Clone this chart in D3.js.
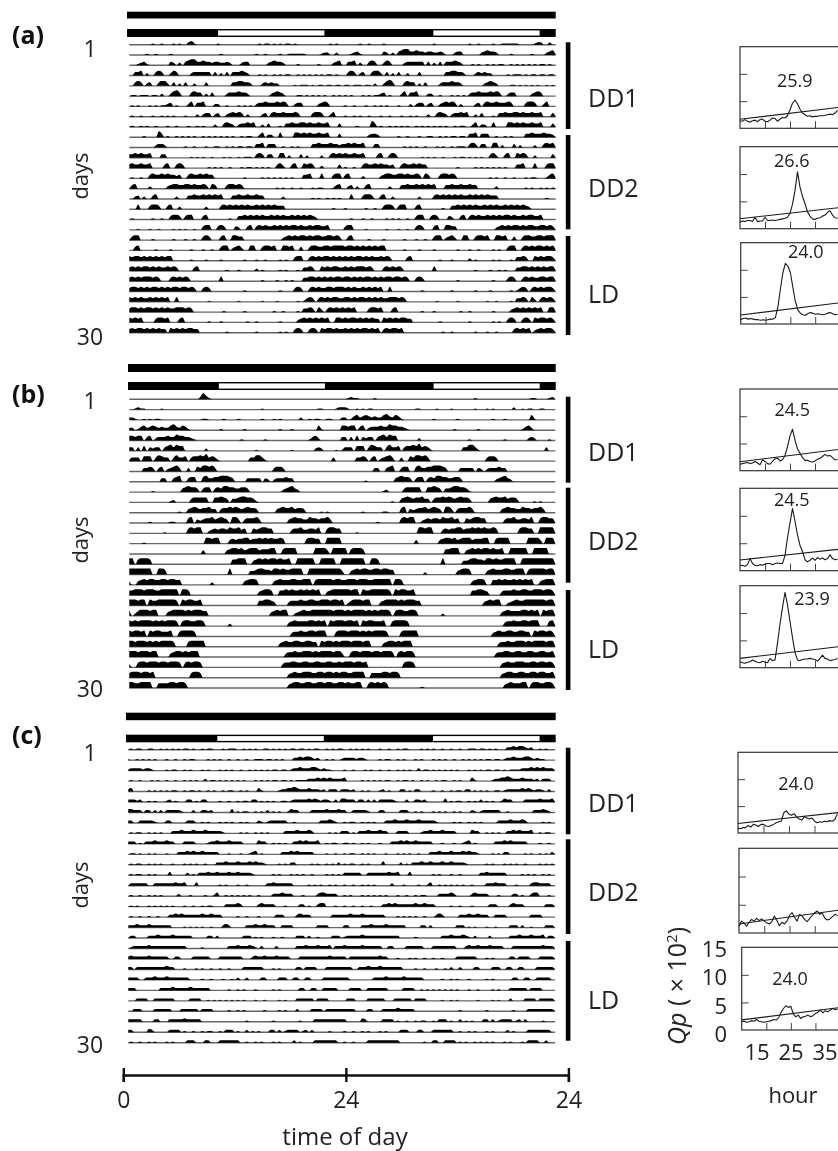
<!DOCTYPE html>
<html>
<head>
<meta charset="utf-8">
<script src="https://cdn.jsdelivr.net/npm/d3@7"></script>
<style>
  html, body { margin: 0; padding: 0; background: #fff; overflow: hidden; }
  svg { filter: blur(0.35px); }
  text { font-family: "Open Sans", sans-serif; fill: #222; }
</style>
</head>
<body>
<div id="chart"></div>
<script>
// activity per day, one digit for each 20 minutes (72 per day)
const activityA = [
  "000000 001001 000101 002310 000000 100000 000000 001011 010101 101000 000000 001010",
  "000000 100100 001000 000000 000000 010000 000000 010010 000100 111111 000001 220020",
  "000123 100000 003202 034553 343323 322320 002330 000002 343320 000100 000010 000234",
  "003340 200343 002430 000233 333303 020303 334320 001010 010101 100101 010101 011010",
  "003430 230034 420302 030020 003000 000003 344332 000232 322000 001011 101011 011011",
  "011011 101102 002453 000343 302030 000233 343320 000000 234320 000110 101010 100101",
  "010100 010101 123010 002403 340002 200100 010101 023343 334343 002330 000023 430000",
  "010010 001001 010100 010002 023302 300234 343020 000230 343343 334300 003443 002400",
  "010010 100100 010010 001001 010002 003432 023343 400203 000103 343344 343343 340003",
  "000001 000053 010010 101010 010101 010101 001011 002402 200400 004434 343343 340003",
  "000000 000233 200000 010010 001001 100101 011011 033403 330010 010100 003343 334332",
  "334343 340003 300000 000101 010010 001010 010111 034303 300440 200030 200002 003434",
  "343343 340000 340034 300000 000101 010010 001011 010101 003420 034004 343002 000003",
  "010010 034334 343323 003433 434330 000000 000100 000101 010101 010003 340004 000344",
  "034000 020000 023443 344343 343043 000344 343000 000000 001010 010010 001011 000134",
  "002302 003400 000020 003343 343434 340003 343343 343300 000020 000000 001010 010101",
  "000400 034430 034002 000000 002000 034343 434343 343434 343330 000000 000000 000100",
  "010000 001001 003443 034400 034000 000010 033434 343433 434343 343434 343200 000000",
  "000100 010010 000101 010010 034400 343000 320034 034343 343434 344343 343443 340000",
  "034400 001000 000100 010010 034300 034004 433000 000000 000023 434344 343443 344343",
  "003400 000100 001000 000100 010010 034402 342004 400344 340044 340030 034433 443444",
  "434434 343434 344000 000100 001000 010000 000100 010010 000101 003440 034343 443434",
  "343434 434343 343430 000034 000000 000100 010000 020100 000101 000103 343004 343443",
  "343434 443430 003434 343000 000000 040000 000000 000100 001001 010003 344343 434344",
  "344343 434434 343443 443430 034300 000000 000100 000000 000100 003430 034343 344344",
  "434343 343434 340040 000000 000100 000000 010000 000100 001000 000101 343034 343443",
  "344343 443434 343344 434300 000000 001000 000100 000000 010010 000103 343042 034343",
  "434340 000344 340003 400000 000100 010000 000010 010000 000100 000234 343434 340044",
  "343443 434343 304343 434433 000000 000100 000000 010000 000101 003430 034304 344343",
  "343434 344343 403434 434000 000000 000010 010000 000100 010010 000034 343402 343443"
];

const activityB = [
  "000000 000000 000000 000000 253100 000000 000000 000000 000000 000000 000000 000000",
  "001211 000001 000000 000000 000000 000000 000000 000100 000000 000000 000011 000012",
  "221001 010110 000000 000000 011000 001000 010000 000100 010100 000020 010110 011000",
  "220134 234323 224532 431000 000000 010000 000100 000000 000100 010000 000041 000000",
  "443440 340233 343354 433210 000000 000000 001000 000010 000000 000000 013420 000000",
  "330304 032330 345354 400000 002000 000000 000000 010000 000000 010000 000232 000010",
  "133304 440354 330353 340344 546343 100000 000003 355310 000000 000000 000000 000300",
  "000003 343034 023453 003004 355453 000000 000000 000000 034430 000000 000000 000000",
  "000000 000003 300345 003440 045334 455543 000033 333032 023334 330000 000000 000000",
  "000000 001000 000000 345443 034403 435544 334430 000000 000023 453200 000000 000000",
  "000000 000000 001200 000344 444004 454303 345544 310000 000000 000000 000000 000000",
  "000000 000000 000001 003454 344533 034454 543454 430000 003454 453443 000001 010000",
  "000000 010000 001100 004503 234453 454305 530344 453000 000000 345443 354434 453000",
  "000000 000000 100000 004545 500234 344354 453400 434554 400000 034453 344350 045544",
  "000001 000000 000000 000000 005545 500034 344553 445454 544540 000000 455440 055555",
  "000000 000000 000000 000000 030000 000345 545345 553444 550045 555000 000555 530555",
  "550455 540000 000000 000000 000000 000004 455500 345454 554544 500555 555005 555500",
  "555555 550055 400000 000000 000000 000050 000003 345544 355454 455550 055555 555555",
  "300345 455445 545544 000000 000020 000000 000345 540000 034544 455445 550455 555455",
  "445554 555445 555550 554000 000000 000000 000000 003455 400445 454454 545450 034555",
  "555455 054455 555540 545544 500000 000000 000000 004455 430000 344454 455445 554554",
  "502455 545500 034555 545455 544000 000000 000000 000000 345455 002345 445555 555455",
  "545455 554545 455540 455445 540000 000020 000000 000000 000000 345444 455454 505455",
  "545545 054554 445004 555540 000000 000000 000000 000000 000000 034454 455455 500045",
  "554555 454545 555400 004555 550000 000000 000000 000000 000345 445544 554405 455454",
  "555455 545500 003455 454555 000000 000000 000000 000000 000003 445445 554545 555455",
  "300455 455545 545554 045455 400000 000000 000000 000000 000034 455445 544554 455445",
  "455545 545000 000000 000455 400000 000000 000000 000000 000000 345445 554455 455454",
  "554455 550044 445545 540000 000000 000000 000000 000000 000000 345544 554455 455445",
  "545445 500454 545400 000000 000100 000000 000000 000000 000000 034544 455045 544554"
];

const activityC = [
  "010110 011001 010101 011010 010110 001011 100101 010011 010101 011011 010110 010101",
  "100101 010100 010010 010110 000101 010010 010010 011101 101010 002232 332120 010100",
  "122221 221000 010110 010100 010100 010101 001001 010101 011011 012232 223321 211000",
  "010010 001010 010010 010101 002011 010101 010100 010101 011011 010111 122232 323222",
  "230000 010101 010110 010110 100101 001011 001010 003100 000122 334322 232221 202220",
  "222120 010100 012010 002201 022000 010010 010110 220101 010011 012222 232321 221020",
  "332220 220202 022222 100020 022120 000003 010110 010102 010100 132200 002222 232223",
  "220022 222100 022000 002220 010100 010101 001010 002101 222222 001000 000002 223210",
  "010110 010101 000222 322232 223222 221000 001010 010101 000002 222322 232000 001010",
  "222010 222322 232200 022220 000122 322232 222000 003220 010101 002232 322230 010110",
  "011010 010100 010002 223232 232222 200010 001001 230100 000022 232322 222000 010010",
  "010110 010101 000100 010101 001000 222322 232223 232210 000101 022000 001010 010102",
  "010110 010100 003000 002010 222322 322232 232222 100000 010100 010101 001000 010101",
  "022222 200222 222232 230003 000000 010100 010010 000002 232222 220000 010101 001010",
  "010010 010101 000002 000100 001001 300101 010101 001000 022232 220001 000023 322220",
  "010100 010101 010100 010010 010110 000222 232000 002322 220001 000022 010023 300010",
  "010010 010010 002232 322222 232232 220000 010010 001000 002220 000232 220000 000222",
  "222322 232222 222000 010101 010010 002320 000022 232232 220022 220000 000022 220000",
  "022000 022232 222322 222200 000220 200000 000222 010100 010010 000222 020010 000222",
  "012222 232222 222222 220000 010000 000022 232223 210200 002000 000222 322232 223022",
  "232222 232222 220022 000022 222200 022222 222000 232232 223222 200022 222222 223222",
  "220222 222222 232200 010001 010010 010010 000222 222200 010100 000220 222200 022222",
  "222200 222322 232222 222000 010010 001001 020020 000220 000222 002200 220000 222222",
  "222000 000002 222322 222322 222200 000010 010100 010000 010100 000022 002200 222220",
  "000222 200222 222200 000222 200101 010101 010100 010010 000101 000222 222022 220000",
  "002220 000222 222000 222222 022220 000010 010100 000010 000101 000200 002222 022222",
  "222220 000220 002222 232222 200000 000000 000010 000000 010000 000010 000222 222222",
  "220000 032000 002222 010010 010110 010222 010020 101000 220201 222201 202000 001000",
  "010010 010100 010100 002220 002200 022222 220010 010100 010100 002010 000222 222220",
  "010010 000222 222222 220000 000010 022002 222010 100101 010100 010100 010222 200200"
];

// lights on (white part of the second bar), in hours of the double plot
const lightsOn = [[10.2, 22.1], [34.3, 46.2]];

const phases = ["DD1", "DD2", "LD"];

// periodogram hours, Qp values (x100) for each hour
const hours = d3.range(5, 45);
const qpA1 = [1.4,1.3,1.6,1.3,1.1,1.4,1.5,1.2,1.6,1.7,1.3,1.2,1.5,1.9,1.8,1.3,1.7,2.0,1.9,2.3,3.4,4.6,5.2,4.5,3.5,2.8,2.5,2.2,2.3,2.1,2.2,2.2,2.3,2.3,2.4,2.5,2.6,2.5,2.8,3.3];
const qpA2 = [1.2,1.4,1.3,1.5,1.5,1.3,2.1,1.3,1.4,1.4,2.1,1.5,1.5,1.6,1.5,1.6,1.7,1.8,1.9,2.1,2.8,4.5,7.0,10.4,7.6,5.9,4.6,3.1,2.3,1.8,1.7,1.9,2.0,2.3,2.5,3.0,3.3,2.5,2.0,1.9];
const qpA3 = [0.8,1.0,1.1,0.9,1.0,0.9,0.8,0.8,0.7,0.8,0.7,0.8,0.9,0.9,1.2,3.2,6.5,9.5,11.2,10.7,9.5,6.8,4.2,2.6,2.0,1.7,1.6,1.9,2.1,2.0,1.8,1.9,1.8,1.7,1.8,2.0,2.1,1.9,1.7,1.8];
const qpB1 = [1.2,1.3,1.4,1.5,1.3,1.4,1.7,1.4,1.1,2.0,1.7,1.3,1.2,1.7,2.2,2.3,1.8,2.0,2.8,4.4,6.4,7.6,5.6,4.0,3.2,2.4,1.9,1.9,1.7,1.6,1.8,2.1,2.3,2.6,3.0,2.7,2.8,2.4,2.0,2.0];
const qpB2 = [0.9,1.0,0.8,1.1,2.2,1.3,1.0,0.9,1.1,1.0,1.2,1.3,1.3,1.1,1.3,1.4,1.3,1.3,2.8,6.0,8.7,11.3,9.0,6.5,4.6,3.5,2.0,1.6,1.9,2.3,1.9,2.4,2.1,2.3,2.0,2.2,2.9,2.2,2.0,2.1];
const qpB3 = [1.1,0.9,0.8,1.0,1.1,1.4,1.2,1.0,0.9,1.2,1.0,0.9,1.7,1.3,1.4,4.5,8.0,11.0,13.8,11.5,8.5,5.5,2.8,1.4,1.3,1.5,1.6,1.6,1.7,1.6,1.5,1.2,1.7,2.3,1.7,1.6,1.3,1.4,1.5,1.7];
const qpC1 = [0.9,0.8,1.0,1.0,1.4,1.1,1.6,1.5,1.2,1.6,1.6,1.3,1.2,1.4,1.6,1.9,2.1,2.2,3.8,4.1,3.5,3.3,3.6,3.0,2.6,2.4,3.0,2.8,2.6,2.8,2.2,1.9,2.1,2.0,2.2,2.1,2.3,2.2,2.5,3.6];
const qpC2 = [1.2,2.1,1.8,1.2,1.9,2.4,2.1,2.6,2.2,2.5,2.1,1.8,1.6,2.0,3.0,2.2,1.3,1.9,1.6,2.1,3.1,3.6,2.8,2.1,3.3,3.0,2.4,2.0,2.6,3.1,3.6,3.9,3.3,3.5,2.6,2.3,2.5,2.9,3.3,3.1];
const qpC3 = [1.5,1.6,1.4,1.5,1.7,1.6,1.9,1.6,1.5,1.4,1.5,1.6,1.7,1.9,1.8,2.2,3.2,3.9,4.4,4.1,4.3,2.9,2.4,2.7,2.1,2.4,2.5,2.7,2.4,2.6,3.0,3.2,3.6,3.1,3.5,3.3,3.6,3.9,3.7,3.8];

// significance line per plot, Qp at the first and the last hour
const thresholds = [[1.65,3.85],[1.83,3.85],[1.65,3.9],[1.65,3.9],[1.95,3.9],[1.7,3.85],[1.78,3.8],[1.6,4.05],[1.83,4.05]];
const periodLabels = ["25.9","26.6","24.0","24.5","24.5","23.9","24.0","","24.0"];
const qpTicks = [0, 5, 10, 15];
const hourTicks = [15, 25, 35];

let svg = d3.select('#chart').append('svg').attr('width', 838).attr('height', 1151);

// layout of the three rows of the figure
const panels = [
  { name: '(a)', nameY: 35, data: activityA, left: 129.3, right: 555.7, barLeft: 127, bar1: 11.7, bar1H: 6.8, bar2: 29, bar2H: 8,
    first: 44.7, last: 332.7, oneY: 49, thirtyY: 337, daysY: 176,
    bars: [[42.3, 129], [135, 229.3], [236, 335]], labelY: [97.7, 188, 294] },
  { name: '(b)', nameY: 394, data: activityB, left: 129.3, right: 555.3, barLeft: 128, bar1: 364, bar1H: 8, bar2: 382, bar2H: 8,
    first: 399.3, last: 688, oneY: 401, thirtyY: 689, daysY: 540,
    bars: [[396.7, 482.7], [487.7, 582.7], [590, 690]], labelY: [452, 541, 649] },
  { name: '(c)', nameY: 735, data: activityC, left: 128.3, right: 555, barLeft: 126, bar1: 712.7, bar1H: 7.5, bar2: 734.7, bar2H: 7.6,
    first: 749.7, last: 1042.7, oneY: 753, thirtyY: 1045, daysY: 885,
    bars: [[747.7, 834.3], [839.3, 934], [941, 1040.7]], labelY: [803, 892, 1000] }
];

// layout of the periodograms, same order as the qp arrays
const plots = [
  { qp: qpA1, left: 740, top: 46.7, bottom: 128.3, lx: 794.7, ly: 80.7 },
  { qp: qpA2, left: 740, top: 146.7, bottom: 228.7, lx: 791.7, ly: 161 },
  { qp: qpA3, left: 740.7, top: 242.7, bottom: 324, lx: 805.7, ly: 252 },
  { qp: qpB1, left: 740, top: 389, bottom: 470.7, lx: 792.3, ly: 410 },
  { qp: qpB2, left: 740, top: 488.3, bottom: 570.7, lx: 791.7, ly: 499.3 },
  { qp: qpB3, left: 740, top: 585.7, bottom: 667.7, lx: 812, ly: 599 },
  { qp: qpC1, left: 738, top: 752.3, bottom: 833, lx: 796, ly: 784 },
  { qp: qpC2, left: 739, top: 848.3, bottom: 933, lx: 0, ly: 0 },
  { qp: qpC3, left: 741.7, top: 947.3, bottom: 1030, lx: 790, ly: 979 }
];

// one digit string into an array of numbers
function parseDay(day) {
  return day.replace(/ /g, '').split('').map(Number);
}

panels.forEach(function(panel) {
  let group = svg.append('g');
  let days = panel.data.map(parseDay);
  let rowCount = days.length - 1;

  let xBar = d3.scaleLinear().domain([0, 48]).range([panel.barLeft, 555.7]);
  let xHour = d3.scaleLinear().domain([0, 48]).range([panel.left, panel.right]);
  let yRow = d3.scaleLinear().domain([0, rowCount - 1]).range([panel.first, panel.last]);
  let yActivity = d3.scaleLinear().domain([0, 5]).range([0, -6]);

  // top bars
  group.append('rect').attr('x', xBar(0)).attr('y', panel.bar1)
    .attr('width', xBar(48) - xBar(0)).attr('height', panel.bar1H).attr('fill', '#000');
  group.append('rect').attr('x', xBar(0)).attr('y', panel.bar2)
    .attr('width', xBar(48) - xBar(0)).attr('height', panel.bar2H).attr('fill', '#000');
  group.selectAll('.light').data(lightsOn).enter().append('rect')
    .attr('x', d => xBar(d[0])).attr('y', panel.bar2 + 1.4)
    .attr('width', d => xBar(d[1]) - xBar(d[0])).attr('height', panel.bar2H - 2.8)
    .attr('fill', '#fff');

  // double plotted rows, each one shows a day and the next one
  let area = d3.area()
    .x((d, i) => xHour(i / 3))
    .y0(0)
    .y1(d => yActivity(d))
    .curve(d3.curveMonotoneX);

  for (let r = 0; r < rowCount; r++) {
    let row = days[r].concat(days[r + 1]);
    row.push(0);
    let rowGroup = group.append('g').attr('transform', `translate(0, ${yRow(r)})`);
    rowGroup.append('line').attr('x1', xHour(0)).attr('x2', xHour(48))
      .attr('stroke', '#666').attr('stroke-width', 1.4);
    rowGroup.append('path').attr('d', area(row)).attr('fill', '#000');
  }

  // condition bars
  group.selectAll('.phase').data(panel.bars).enter().append('rect')
    .attr('x', 565.8).attr('y', d => d[0])
    .attr('width', 4.6).attr('height', d => d[1] - d[0]).attr('fill', '#000');
  group.selectAll('.phaseLabel').data(phases).enter().append('text')
    .attr('x', 588).attr('y', (d, i) => panel.labelY[i]).attr('dy', '0.36em')
    .attr('font-size', '25px').text(d => d);

  // labels
  group.append('text').attr('x', 12).attr('y', panel.nameY).attr('dy', '0.36em')
    .attr('font-size', '25px').attr('font-weight', 'bold').style('fill', '#111').text(panel.name);
  group.append('text').attr('x', 90).attr('y', panel.oneY).attr('dy', '0.36em')
    .attr('text-anchor', 'middle').attr('font-size', '23px').text('1');
  group.append('text').attr('x', 90).attr('y', panel.thirtyY).attr('dy', '0.36em')
    .attr('text-anchor', 'middle').attr('font-size', '23px').text('30');
  group.append('text').attr('text-anchor', 'middle').attr('font-size', '22px')
    .attr('transform', `translate(88, ${panel.daysY}) rotate(-90)`).text('days');
});

// periodograms
plots.forEach(function(plot, i) {
  let group = svg.append('g');
  let right = 842;
  let x = d3.scaleLinear().domain([5, 45.8]).range([plot.left, right]);
  let y = d3.scaleLinear().domain([0, 15]).range([plot.bottom, plot.top]);

  group.append('rect').attr('x', plot.left).attr('y', plot.top)
    .attr('width', right - plot.left).attr('height', plot.bottom - plot.top)
    .attr('fill', 'none').attr('stroke', '#333').attr('stroke-width', 1.2);

  let xAxis = d3.axisBottom(x).tickValues(hourTicks).tickSize(-7).tickFormat('');
  let yAxis = d3.axisLeft(y).tickValues([5, 10]).tickSize(-7).tickFormat('');
  let xGroup = group.append('g').attr('transform', `translate(0, ${plot.bottom})`).call(xAxis);
  let yGroup = group.append('g').attr('transform', `translate(${plot.left}, 0)`).call(yAxis);
  xGroup.select('.domain').remove();
  yGroup.select('.domain').remove();
  group.selectAll('.tick line').attr('stroke', '#444').attr('stroke-width', 1);

  let line = d3.line().x((d, j) => x(hours[j])).y(d => y(d));
  group.append('path').attr('d', line(plot.qp)).attr('fill', 'none')
    .attr('stroke', '#1a1a1a').attr('stroke-width', 1.1).attr('stroke-linejoin', 'round');

  group.append('line')
    .attr('x1', x(5)).attr('y1', y(thresholds[i][0]))
    .attr('x2', x(44.5)).attr('y2', y(thresholds[i][1]))
    .attr('stroke', '#1a1a1a').attr('stroke-width', 1.1);

  if (periodLabels[i]) {
    group.append('text').attr('x', plot.lx).attr('y', plot.ly).attr('dy', '0.36em')
      .attr('text-anchor', 'middle').attr('font-size', '18px').text(periodLabels[i]);
  }
});

// axis labels of the last periodogram
let qpScale = d3.scalePoint().domain(qpTicks).range([1034, 949]);
svg.selectAll('.qpTick').data(qpTicks).enter().append('text')
  .attr('x', 727).attr('y', d => qpScale(d)).attr('dy', '0.36em')
  .attr('text-anchor', 'end').attr('font-size', '22px').text(d => d);

let hourScale = d3.scalePoint().domain(hourTicks).range([757, 825]);
svg.selectAll('.hourTick').data(hourTicks).enter().append('text')
  .attr('x', d => hourScale(d)).attr('y', 1052).attr('dy', '0.36em')
  .attr('text-anchor', 'middle').attr('font-size', '22px').text(d => d);

svg.append('text').attr('x', 793).attr('y', 1095).attr('dy', '0.36em')
  .attr('text-anchor', 'middle').attr('font-size', '22px').text('hour');

let qpTitle = svg.append('text').attr('text-anchor', 'middle').attr('font-size', '25px')
  .attr('transform', 'translate(686, 986) rotate(-90)');
qpTitle.append('tspan').attr('font-style', 'italic').text('Qp');
qpTitle.append('tspan').text(' ( × 10');
qpTitle.append('tspan').attr('font-size', '15px').attr('dy', '-9').text('2');
qpTitle.append('tspan').attr('dy', '9').text(')');

// time of day axis
let xTime = d3.scaleLinear().domain([0, 48]).range([123.3, 568.4]);
let timeTicks = [0, 24, 48];
let timeAxis = d3.axisBottom(xTime).tickValues(timeTicks)
  .tickSize(7).tickPadding(10).tickFormat(d => d === 0 ? '0' : '24');
let timeGroup = svg.append('g').attr('transform', 'translate(0, 1075)').call(timeAxis);
timeGroup.select('.domain').attr('stroke', '#111').attr('stroke-width', 2.4);
timeGroup.selectAll('.tick line').attr('y1', -7).attr('stroke', '#111').attr('stroke-width', 2.4);
timeGroup.selectAll('.tick text').attr('font-size', '23px')
  .attr('font-family', '"Open Sans", sans-serif').style('fill', '#222');

svg.append('text').attr('x', 345).attr('y', 1144.5)
  .attr('text-anchor', 'middle').attr('font-size', '24px').text('time of day');
</script>
</body>
</html>
